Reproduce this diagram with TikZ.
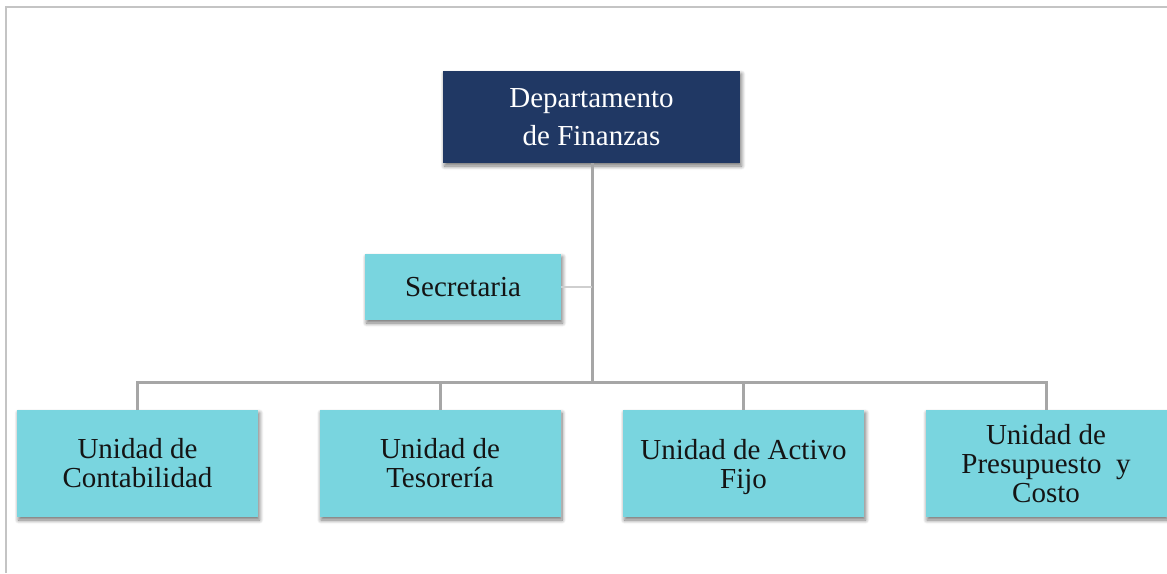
\documentclass[tikz,border=0pt]{standalone}
\usepackage{fontspec}
\setmainfont{Liberation Serif}
\usetikzlibrary{shadows.blur}
\definecolor{navy}{HTML}{203864}
\definecolor{cyanbox}{HTML}{79D5DF}
\definecolor{linegray}{HTML}{A6A6A6}
\definecolor{framegray}{HTML}{C4C4C4}
\definecolor{thingray}{HTML}{CFCFCF}
\tikzset{
  boxbase/.style={rectangle, inner sep=0pt, align=center,
    blur shadow={shadow xshift=1.5pt, shadow yshift=-3pt, shadow blur steps=8, shadow blur radius=4pt, shadow opacity=55}},
  topbox/.style={boxbase, fill=navy, text=white, minimum width=297pt, minimum height=92pt,
    font=\fontsize{29}{38}\selectfont},
  unitbox/.style={boxbase, fill=cyanbox, text=black!92, minimum width=241pt, minimum height=107pt,
    font=\fontsize{29}{29}\selectfont},
  secbox/.style={boxbase, fill=cyanbox, text=black!92, minimum width=196pt, minimum height=66pt,
    font=\fontsize{29}{29}\selectfont},
  conn/.style={draw=linegray, line width=3pt},
  thinconn/.style={draw=thingray, line width=1.5pt},
  frameline/.style={draw=framegray, line width=2.5pt}
}
\begin{document}
\begin{tikzpicture}[x=1pt,y=-1pt]
\useasboundingbox (0,0) rectangle (1167,573);
\draw[frameline] (6,573) -- (6,7) -- (1168,7);
% nodes
\node[topbox] (top) at (591.5,117) {Departamento\\de Finanzas};
\node[secbox] (sec) at (463,287) {Secretaria};
\node[unitbox] (u1) at (137.5,463.5) {Unidad de\\Contabilidad};
\node[unitbox] (u2) at (440,463.5) {Unidad de\\Tesorería};
\node[unitbox] (u3) at (743.5,463.5) {Unidad de Activo\\\smash{Fijo}};
\node[unitbox] (u4) at (1046,463.5) {Unidad de\\Presupuesto~ y\\Costo};
% connectors
\coordinate (hub) at (592,382);
\coordinate (sj) at (592,287);
\draw[conn] (top.south -| hub) -- (hub);
\draw[thinconn] (sec.east) -- (sj);
\draw[conn, line cap=rect] (u1.north |- hub) -- (u4.north |- hub);
\foreach \n in {u1,u2,u3,u4} \draw[conn] (\n.north |- hub) -- (\n.north);
\end{tikzpicture}
\end{document}
